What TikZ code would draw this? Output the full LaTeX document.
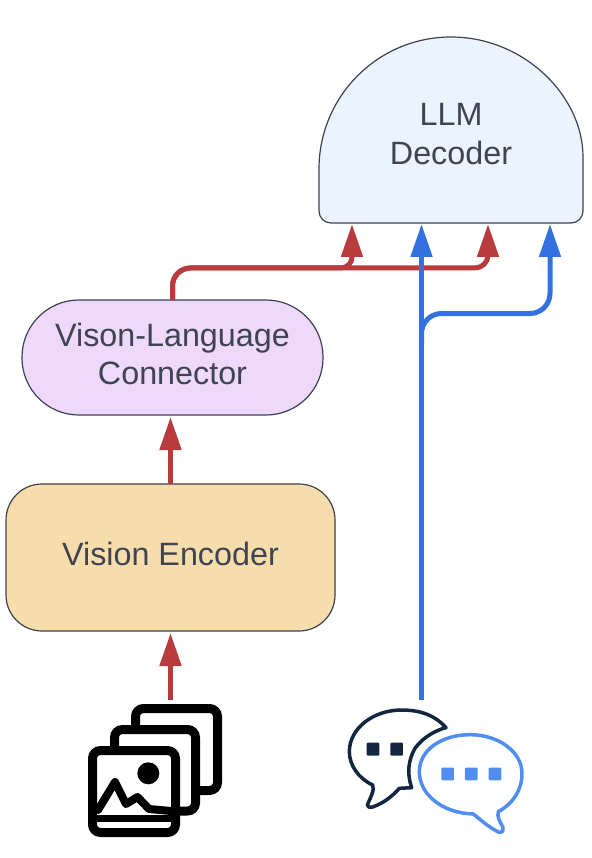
\documentclass[tikz,border=0pt]{standalone}
\usepackage{fontspec}
\setmainfont{Liberation Sans}
\usetikzlibrary{arrows.meta,calc}
\definecolor{edgegray}{HTML}{3D4250}
\definecolor{txtgray}{HTML}{3F4452}
\definecolor{redl}{HTML}{B83C3E}
\definecolor{bluel}{HTML}{3371E0}
\definecolor{encfill}{HTML}{F8DDAC}
\definecolor{conffill}{HTML}{EED8FB}
\definecolor{decfill}{HTML}{EBF3FE}
\definecolor{chatdark}{HTML}{14263F}
\definecolor{chatblue}{HTML}{4F8EF0}
\newcommand{\boxlabel}[2]{\raisebox{#1}[0pt][0pt]{\parbox{260pt}{\centering #2}}}
\tikzset{
  boxnode/.style={draw=edgegray,line width=1.2pt,align=center,text=txtgray,inner sep=0pt,outer sep=0pt,
    font=\fontsize{32.3}{38.5}\selectfont},
  redline/.style={draw=redl,line width=5pt,-{Triangle[length=33pt,width=21pt]}},
  blueline/.style={draw=bluel,line width=5pt,-{Triangle[length=33pt,width=21pt]}},
  iconframe/.style={draw=black,line width=9pt,rounded corners=8pt,fill=white},
  chatsq/.style={rounded corners=1pt},
}
\begin{document}
\begin{tikzpicture}[x=1pt,y=-1pt]
\useasboundingbox (0,0) rectangle (591,858);
\fill[white] (0,0) rectangle (591,858);

% decoder body
\draw[draw=edgegray,fill=decfill,line width=1.2pt,rounded corners=12pt]
  (319,169) -- (319,223) -- (583,223) -- (583,169) [sharp corners]
  arc[start angle=0,end angle=180,x radius=132,y radius=-132] -- cycle;
\node[boxnode,draw=none,minimum width=264pt,minimum height=186pt] (dec) at (451,130)
  {\boxlabel{-10.5pt}{LLM\\Decoder}};

\node[boxnode,fill=conffill,rounded corners=57pt,minimum width=301pt,minimum height=115pt] (conn) at (172.5,357.5)
  {\boxlabel{-2.5pt}{Vison-Language\\Connector}};
\node[boxnode,fill=encfill,rounded corners=36pt,minimum width=329pt,minimum height=147pt] (enc) at (170.5,557.5)
  {\boxlabel{-3pt}{Vision Encoder}};

\coordinate (p1) at ([xshift=33pt,yshift=-1pt]dec.south west);
\coordinate (p2) at ([xshift=102.5pt,yshift=-1pt]dec.south west);
\coordinate (p3) at ([xshift=169pt,yshift=-1pt]dec.south west);
\coordinate (p4) at ([xshift=231pt,yshift=-1pt]dec.south west);
\coordinate (imgtop) at (170.5,700);
\coordinate (chattop) at (421.5,700);
\coordinate (bl) at (421.5,345);

% red connectors
\draw[redline] (imgtop) -- ([yshift=-2pt]enc.south);
\draw[redline] ([xshift=-2pt]conn.south |- enc.north) -- ([xshift=-2pt,yshift=-2pt]conn.south);
\draw[redline] [rounded corners=18pt] (conn.north) -- (conn.north |- 0,268) [rounded corners=11pt] -- (p1 |- 0,268) -- (p1);
\draw[redline] [rounded corners=18pt] (conn.north) -- (conn.north |- 0,268) [rounded corners=13pt] -- (p3 |- 0,268) -- (p3);

% blue connectors
\draw[blueline] (chattop) -- (p2);
\draw[blueline,rounded corners=20pt] (bl) -- (bl |- 0,313.5) -- (p4 |- 0,313.5) -- (p4);

% image stack icon
\begin{scope}
\draw[iconframe] (135.5,708.5) rectangle (217.5,790.5);
\draw[iconframe] (114.5,729.5) rectangle (195.5,811);
\draw[iconframe] (92.5,750.5) rectangle (175.5,832.5);
\fill[black] (148.3,773.3) circle[radius=11];
\draw[black,line width=8pt,line join=round,line cap=round]
  (98,810) -- (115,782) -- (126,804) -- (137.5,797) -- (149,809) -- (171,811);
\draw[black,line width=7pt] (92,818.5) -- (176,818.5);
\end{scope}

% chat icon
\begin{scope}[shift={(330,690)},x=0.3333pt,y=-0.3333pt]
\draw[chatdark,line width=3.5pt,line join=round,fill=white]
  (348,113) .. controls (310,70) and (260,60) .. (215,60)
  .. controls (130,60) and (58,115) .. (58,185)
  .. controls (58,225) and (85,265) .. (128,285)
  .. controls (135,300) and (120,325) .. (112,345)
  .. controls (112,352) and (120,354) .. (128,351)
  .. controls (165,338) and (190,315) .. (208,295)
  -- (245,293)
  .. controls (230,250) and (235,210) .. (255,175)
  .. controls (280,140) and (320,120) .. (348,113) -- cycle;
\fill[chatdark,chatsq] (110,158) rectangle (148,197);
\fill[chatdark,chatsq] (181,158) rectangle (219,197);
\draw[chatblue,line width=3.5pt,line join=round,fill=white]
  (420,134) .. controls (335,134) and (268,180) .. (268,245)
  .. controls (268,315) and (340,370) .. (430,372)
  .. controls (455,392) and (480,415) .. (510,428)
  .. controls (518,428) and (522,420) .. (519,412)
  .. controls (510,395) and (500,380) .. (505,365)
  .. controls (550,340) and (576,300) .. (576,250)
  .. controls (576,185) and (505,134) .. (420,134) -- cycle;
\fill[chatblue,chatsq] (334,233) rectangle (372,271);
\fill[chatblue,chatsq] (405,233) rectangle (443,271);
\fill[chatblue,chatsq] (476,233) rectangle (514,271);
\end{scope}
\end{tikzpicture}
\end{document}
